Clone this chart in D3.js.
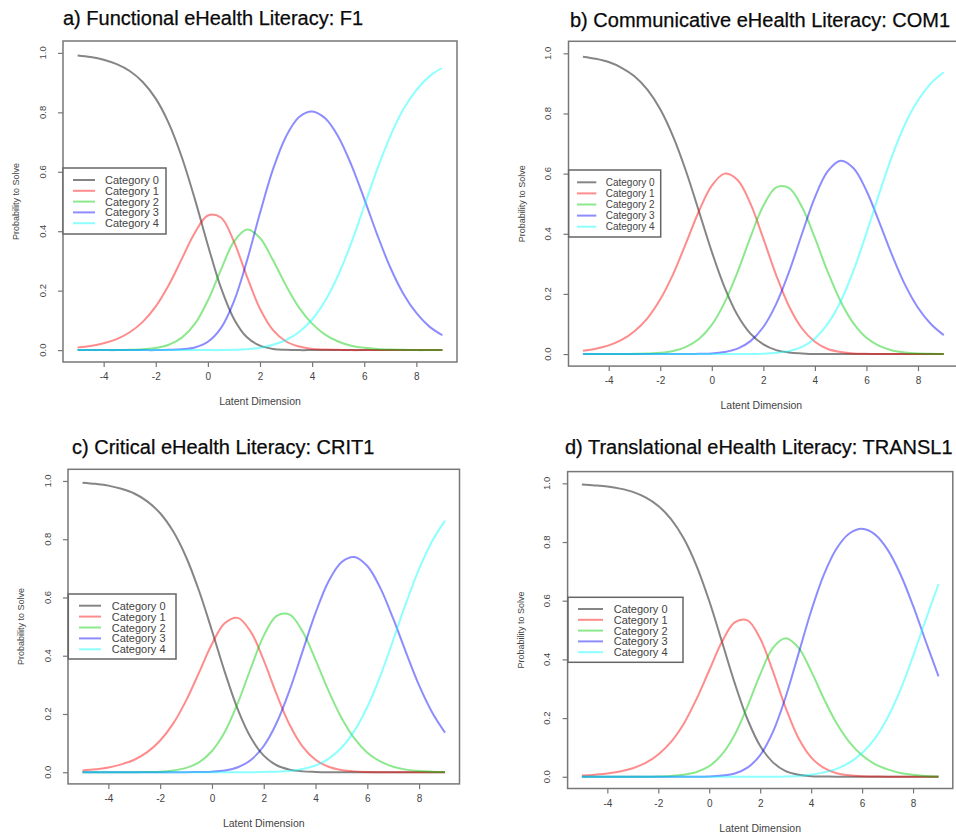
<!DOCTYPE html>
<html>
<head>
<meta charset="utf-8">
<script src="https://cdn.jsdelivr.net/npm/d3@7"></script>
<style>
body { margin: 0; background: #fff; }
text { font-family: "Liberation Sans", Arial, Helvetica, sans-serif; }
</style>
</head>
<body>
<svg id="chart" width="956" height="838"></svg>
<script>
// latent dimension values where the curves were read
var theta = [-5,-4.5,-4,-3.5,-3,-2.5,-2,-1.5,-1,-0.5,0,0.5,1,1.5,2,2.5,3,3.5,4,4.5,5,5.5,6,6.5,7,7.5,8,8.5,9]

// a) F1
var f1Cat0 = [.991,.986,.977,.962,.939,.902,.846,.763,.649,.508,.353,.210,.105,.043,.015,.004,.001,0,0,0,0,0,0,0,0,0,0,0,0]
var f1Cat1 = [.009,.014,.023,.037,.060,.095,.147,.219,.307,.395,.453,.446,.365,.247,.139,.067,.029,.012,.004,.002,.001,0,0,0,0,0,0,0,0]
var f1Cat2 = [0,0,0,0,.001,.003,.007,.018,.042,.088,.167,.270,.365,.406,.377,.302,.217,.143,.089,.052,.029,.015,.008,.004,.002,.001,0,0,0]
var f1Cat3 = [0,0,0,0,0,0,0,.001,.003,.009,.028,.074,.164,.301,.461,.609,.719,.784,.803,.780,.719,.624,.509,.388,.278,.190,.125,.079,.050]
var f1Cat4 = [0,0,0,0,0,0,0,0,0,0,0,0,.001,.003,.008,.018,.034,.061,.103,.166,.252,.360,.484,.609,.720,.810,.875,.921,.950]

// b) COM1
var com1Cat0 = [.989,.982,.971,.952,.924,.879,.814,.723,.608,.475,.340,.221,.129,.068,.032,.013,.005,.002,0,0,0,0,0,0,0,0,0,0,0]
var com1Cat1 = [.011,.018,.029,.047,.076,.119,.182,.266,.369,.475,.560,.600,.579,.500,.384,.262,.158,.085,.041,.017,.007,.002,.001,0,0,0,0,0,0]
var com1Cat2 = [0,0,0,0,.001,.002,.004,.010,.024,.050,.097,.172,.273,.389,.493,.554,.552,.489,.386,.273,.175,.102,.054,.027,.012,.005,.002,.001,0]
var com1Cat3 = [0,0,0,0,0,0,0,0,0,.001,.002,.007,.018,.043,.090,.167,.274,.400,.521,.608,.643,.618,.543,.438,.328,.230,.154,.100,.063]
var com1Cat4 = [0,0,0,0,0,0,0,0,0,0,0,0,0,0,.001,.004,.010,.024,.052,.101,.175,.278,.402,.535,.660,.765,.844,.900,.937]

// c) CRIT1
var crit1Cat0 = [.994,.990,.984,.973,.957,.930,.889,.827,.739,.623,.486,.343,.215,.119,.057,.024,.009,.003,.001,0,0,0,0,0,0,0,0,0,0]
var crit1Cat1 = [.006,.010,.016,.027,.043,.069,.109,.167,.246,.342,.440,.512,.530,.482,.384,.267,.163,.088,.043,.019,.008,.003,.001,0,0,0,0,0,0]
var crit1Cat2 = [0,0,0,0,0,.001,.002,.006,.015,.034,.073,.139,.238,.357,.469,.537,.541,.483,.386,.280,.187,.116,.067,.037,.019,.009,.004,.002,.001]
var crit1Cat3 = [0,0,0,0,0,0,0,0,0,.001,.002,.006,.017,.042,.090,.170,.282,.415,.547,.655,.721,.739,.708,.633,.527,.410,.298,.206,.136]
var crit1Cat4 = [0,0,0,0,0,0,0,0,0,0,0,0,0,0,.001,.002,.004,.011,.023,.046,.084,.142,.224,.330,.454,.582,.698,.793,.864]

// d) TRANSL1
var transl1Cat0 = [.996,.993,.989,.982,.971,.952,.923,.878,.812,.719,.599,.460,.319,.196,.105,.049,.019,.007,.002,.001,0,0,0,0,0,0,0,0,0]
var transl1Cat1 = [.004,.007,.011,.018,.029,.047,.076,.119,.181,.265,.363,.460,.526,.533,.471,.359,.235,.132,.066,.030,.012,.005,.002,.001,0,0,0,0,0]
var transl1Cat2 = [0,0,0,0,0,0,.001,.003,.007,.016,.036,.076,.143,.240,.349,.439,.472,.440,.360,.266,.182,.118,.073,.043,.025,.013,.007,.003,.001]
var transl1Cat3 = [0,0,0,0,0,0,0,0,0,0,.001,.004,.011,.031,.074,.153,.272,.418,.565,.689,.778,.829,.845,.826,.774,.691,.583,.461,.342]
var transl1Cat4 = [0,0,0,0,0,0,0,0,0,0,0,0,0,0,0,0,.001,.003,.007,.015,.027,.048,.081,.130,.201,.295,.411,.536,.656]

var titles = ["a) Functional eHealth Literacy: F1", "b) Communicative eHealth Literacy: COM1",
              "c) Critical eHealth Literacy: CRIT1", "d) Translational eHealth Literacy: TRANSL1"]
var categories = ["Category 0", "Category 1", "Category 2", "Category 3", "Category 4"]
var colors = ["#000000", "#ff0000", "#00cd00", "#0000ff", "#00ffff"]
var xTicks = [-4, -2, 0, 2, 4, 6, 8]
var yTicks = [0, 0.2, 0.4, 0.6, 0.8, 1.0]

var panels = [
  {title: titles[0], series: [f1Cat0, f1Cat1, f1Cat2, f1Cat3, f1Cat4],
   box: {x: 63, y: 41, w: 394, h: 321}, tx: 63, ty: 25,
   leg: {x: 63, y: 168, w: 103, h: 66, r0: 12, dr: 10.8, l0: 10, l1: 32, t: 42, fs: 11}},
  {title: titles[1], series: [com1Cat0, com1Cat1, com1Cat2, com1Cat3, com1Cat4],
   box: {x: 568.5, y: 41.3, w: 389.7, h: 324.8}, tx: 570, ty: 27,
   leg: {x: 568.7, y: 170, w: 92, h: 67, r0: 12.3, dr: 11.1, l0: 8.3, l1: 27.6, t: 37, fs: 10}},
  {title: titles[2], series: [crit1Cat0, crit1Cat1, crit1Cat2, crit1Cat3, crit1Cat4],
   box: {x: 68, y: 469.3, w: 391.5, h: 314.6}, tx: 72, ty: 454,
   leg: {x: 68.3, y: 594, w: 107.7, h: 65, r0: 11.7, dr: 10.9, l0: 10.7, l1: 32.7, t: 43.4, fs: 11}},
  {title: titles[3], series: [transl1Cat0, transl1Cat1, transl1Cat2, transl1Cat3, transl1Cat4],
   box: {x: 567.6, y: 471.6, w: 385.2, h: 316.9}, tx: 565, ty: 454,
   leg: {x: 568, y: 597.3, w: 115, h: 65, r0: 11.7, dr: 10.8, l0: 10, l1: 35, t: 45.7, fs: 11}}
]

var svg = d3.select("#chart")

panels.forEach(function(p) {
  var b = p.box
  var g = svg.append("g")

  // R style: 4% padding on both axes
  var x = d3.scaleLinear().domain([-5.56, 9.56]).range([b.x, b.x + b.w])
  var y = d3.scaleLinear().domain([-0.04, 1.04]).range([b.y + b.h, b.y])

  g.append("text")
    .attr("x", p.tx).attr("y", p.ty)
    .style("font-size", "20px").style("fill", "#0a0a0a")
    .style("stroke", "#0a0a0a").style("stroke-width", 0.25)
    .text(p.title)

  // curves
  var line = d3.line()
    .x(function(d, i) { return x(theta[i]) })
    .y(function(d) { return y(d) })
    .curve(d3.curveCatmullRom.alpha(0.5))

  p.series.forEach(function(s, k) {
    g.append("path")
      .attr("d", line(s))
      .attr("fill", "none")
      .attr("stroke", colors[k])
      .attr("stroke-opacity", k == 0 ? 0.48 : 0.45)
      .attr("stroke-width", 2)
  })

  g.append("rect")
    .attr("x", b.x).attr("y", b.y).attr("width", b.w).attr("height", b.h)
    .attr("fill", "none").attr("stroke", "#777").attr("stroke-width", 1.5)

  // x axis
  var xa = g.append("g")
    .attr("transform", "translate(0," + (b.y + b.h) + ")")
    .call(d3.axisBottom(x).tickValues(xTicks).tickSize(5).tickPadding(6)
      .tickFormat(function(d) { return String(d) }))
  xa.select(".domain").remove()
  xa.selectAll("line").attr("stroke", "#777").attr("stroke-width", 1.2)
  xa.selectAll("text").style("font-size", "10px").attr("fill", "#444")
    .style("font-family", "'Liberation Sans', Arial, sans-serif")

  // y axis
  var ya = g.append("g")
    .attr("transform", "translate(" + b.x + ",0)")
    .call(d3.axisLeft(y).tickValues(yTicks).tickSize(5).tickFormat(""))
  ya.select(".domain").remove()
  ya.selectAll("line").attr("stroke", "#777").attr("stroke-width", 1.2)

  g.selectAll(".ylab").data(yTicks).enter().append("text")
    .attr("transform", function(d) { return "translate(" + (b.x - 21) + "," + y(d) + ") rotate(-90)" })
    .attr("text-anchor", "middle").attr("dominant-baseline", "central")
    .style("font-size", "9.5px").style("fill", "#444")
    .text(function(d) { return d.toFixed(1) })

  g.append("text")
    .attr("x", b.x + b.w / 2 - (b.x + b.w > 956 ? 2 : 0)).attr("y", b.y + b.h + 39)
    .attr("text-anchor", "middle").attr("dominant-baseline", "central")
    .style("font-size", "10.5px").style("fill", "#444")
    .text("Latent Dimension")

  g.append("text")
    .attr("transform", "translate(" + (b.x - 47) + "," + (b.y + b.h / 2) + ") rotate(-90)")
    .attr("text-anchor", "middle").attr("dominant-baseline", "central")
    .style("font-size", "9px").style("fill", "#444")
    .text("Probability to Solve")

  // legend
  var L = p.leg
  var lg = g.append("g").attr("transform", "translate(" + L.x + "," + L.y + ")")
  lg.append("rect").attr("width", L.w).attr("height", L.h)
    .attr("fill", "#fff").attr("stroke", "#666").attr("stroke-width", 1.5)
  categories.forEach(function(c, k) {
    var ry = L.r0 + k * L.dr
    lg.append("line")
      .attr("x1", L.l0).attr("x2", L.l1).attr("y1", ry).attr("y2", ry)
      .attr("stroke", colors[k]).attr("stroke-opacity", k == 0 ? 0.48 : 0.45)
      .attr("stroke-width", 2)
    lg.append("text")
      .attr("x", L.t).attr("y", ry)
      .attr("dominant-baseline", "central")
      .style("font-size", L.fs + "px").style("fill", "#444")
      .text(c)
  })
})
</script>
</body>
</html>
